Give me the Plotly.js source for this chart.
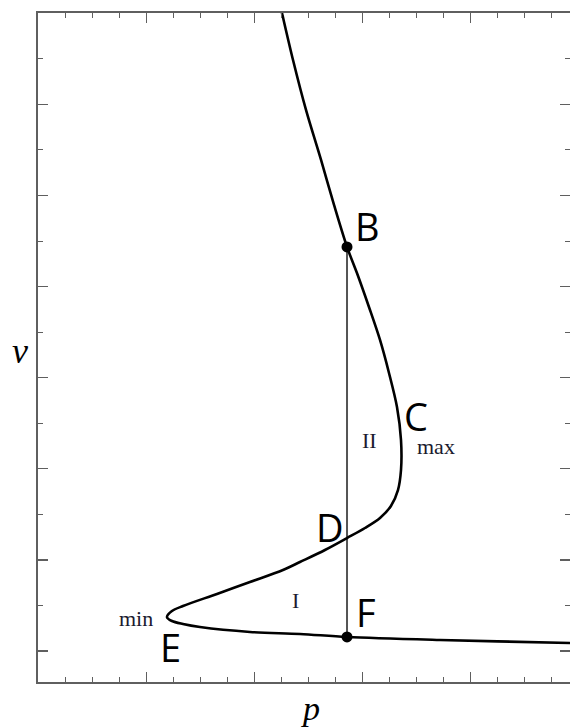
<!DOCTYPE html>
<html>
<head>
<meta charset="utf-8">
<script src="https://cdn.plot.ly/plotly-3.0.1.min.js"></script>
<style>
  html, body { margin: 0; padding: 0; background: #fff; overflow: hidden; }
  #chart { width: 570px; height: 727px; }
</style>
</head>
<body>
<div id="chart"></div>
<script>
// Isotherm traced in the p–v plane (p horizontal, v vertical)
const pressure = [2.227, 2.255, 2.357, 2.477, 2.616, 2.736, 2.856, 2.948, 3.059, 3.161,
                  3.244, 3.318, 3.355, 3.355, 3.327, 3.262, 3.161, 3.022, 2.856, 2.652,
                  2.421, 2.264, 1.959, 1.654, 1.340, 1.238, 1.192, 1.238, 1.340, 1.497,
                  1.959, 2.421, 2.856, 3.715, 4.917, 5.009];
const volume   = [8.146, 8.003, 7.487, 6.939, 6.390, 5.896, 5.435, 5.149, 4.776, 4.414,
                  4.052, 3.678, 3.316, 2.987, 2.767, 2.592, 2.460, 2.350, 2.240, 2.109,
                  1.977, 1.889, 1.757, 1.626, 1.494, 1.439, 1.373, 1.329, 1.296, 1.263,
                  1.209, 1.187, 1.154, 1.121, 1.088, 1.085];

// Equal-pressure tie line between the two marked states
const tieP = [2.856, 2.856];
const tieV = [5.435, 1.154];

// Point labels
const labelText = ['B', 'C', 'D', 'E', 'F'];
const labelP    = [3.041, 3.494, 2.699, 1.220, 3.031];
const labelV    = [5.665, 3.580, 2.361, 1.044, 1.428];

// Small notes: extrema and the two areas
const noteText = ['max', 'min', 'II', 'I'];
const noteP    = [3.678, 0.906, 3.068, 2.384];
const noteV    = [3.250, 1.362, 3.316, 1.549];

const axisColor = '#5f5f5f';

const traces = [
  {
    x: tieP, y: tieV, mode: 'lines', type: 'scatter',
    line: { color: '#555', width: 2 }, hoverinfo: 'skip'
  },
  {
    x: pressure, y: volume, mode: 'lines', type: 'scatter',
    line: { color: '#000', width: 2.6, shape: 'spline', smoothing: 0.9 },
    hoverinfo: 'skip'
  },
  {
    x: tieP, y: tieV, mode: 'markers', type: 'scatter',
    marker: { color: '#000', size: 11 }, hoverinfo: 'skip', cliponaxis: false
  }
];

const annotations = [];
labelText.forEach((t, i) => annotations.push({
  x: labelP[i], y: labelV[i], xref: 'x', yref: 'y', text: t, showarrow: false,
  xanchor: 'center', yanchor: 'middle',
  font: { family: 'Open Sans, sans-serif', size: 38, color: '#000' }
}));
noteText.forEach((t, i) => annotations.push({
  x: noteP[i], y: noteV[i], xref: 'x', yref: 'y', text: t, showarrow: false,
  xanchor: 'center', yanchor: 'middle',
  font: { family: 'Liberation Serif, serif', size: 22, color: '#1a1a2e' }
}));
// Axis letters
annotations.push({
  x: 310, y: 708, xref: 'paper', yref: 'paper', text: '<i>p</i>', showarrow: false,
  font: { family: 'Liberation Serif, serif', size: 34, color: '#000' }
});
annotations.push({
  x: 20, y: 351, xref: 'paper', yref: 'paper', text: '<i>v</i>', showarrow: false,
  font: { family: 'Liberation Serif, serif', size: 36, color: '#000' }
});

const W = 570, H = 727;
const M = { l: 38, r: 0, t: 13, b: 45 };
// convert the two axis-letter positions from pixels to paper fractions
annotations.slice(-2).forEach(a => {
  a.x = (a.x - M.l) / (W - M.l - M.r);
  a.y = 1 - (a.y - M.t) / (H - M.t - M.b);
  a.xanchor = 'center'; a.yanchor = 'middle';
});

const axisCommon = {
  showgrid: false, zeroline: false, showticklabels: false,
  showline: true, linecolor: axisColor, linewidth: 1.8,
  ticks: 'inside', ticklen: 10, tickwidth: 1.2, tickcolor: axisColor,
  mirror: 'allticks', tick0: 0, dtick: 1, fixedrange: true
};

const layout = {
  width: W, height: H, margin: M,
  paper_bgcolor: '#fff', plot_bgcolor: '#fff',
  showlegend: false,
  xaxis: Object.assign({}, axisCommon, {
    range: [0, 4.917],
    minor: { dtick: 0.25, ticks: 'inside', ticklen: 5, tickwidth: 1, tickcolor: axisColor, showgrid: false }
  }),
  yaxis: Object.assign({}, axisCommon, {
    range: [0.6597, 8.0033],
    minor: { dtick: 0.5, ticks: 'inside', ticklen: 5, tickwidth: 1, tickcolor: axisColor, showgrid: false }
  }),
  annotations: annotations
};

Plotly.newPlot('chart', traces, layout, { displayModeBar: false, staticPlot: true });
</script>
</body>
</html>
